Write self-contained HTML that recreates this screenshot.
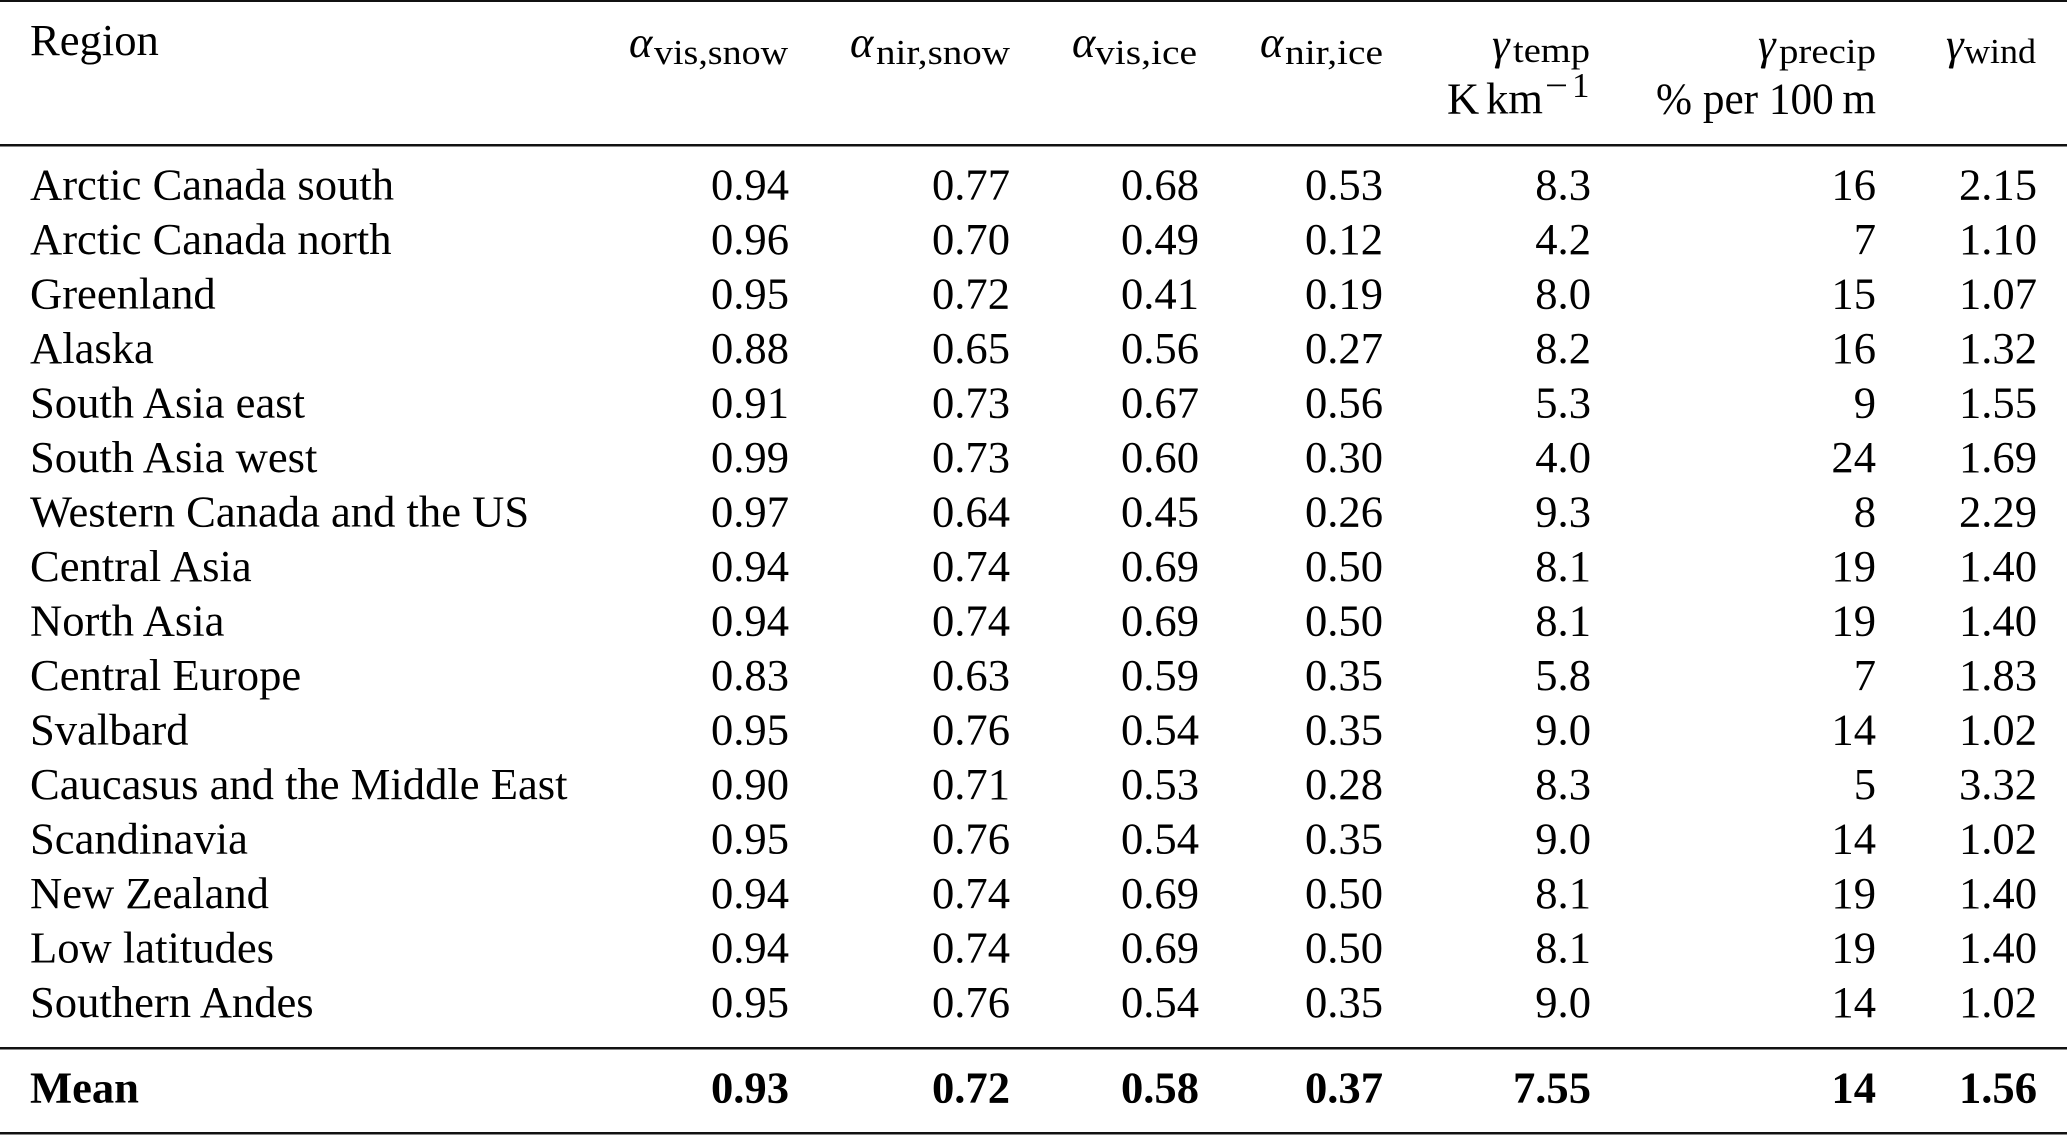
<!DOCTYPE html>
<html>
<head>
<meta charset="utf-8">
<style>
  html, body { margin: 0; padding: 0; background: #ffffff; }
  body { width: 2067px; height: 1135px; overflow: hidden; }
  svg { display: block; }
  text { font-family: "Liberation Serif", "Times New Roman", serif; fill: #000; }
  .m { font-size: 44.6px; }
  .s { font-size: 35px; }
  .g { font-size: 44.6px; font-style: italic; }
  .b { font-size: 44.6px; font-weight: bold; }
</style>
</head>
<body>
<svg width="2067" height="1135" viewBox="0 0 2067 1135" xmlns="http://www.w3.org/2000/svg">
  <!-- rules -->
  <rect x="0" y="0" width="2067" height="2" fill="#111"/>
  <rect x="0" y="144" width="2067" height="2.5" fill="#111"/>
  <rect x="0" y="1047" width="2067" height="2.5" fill="#111"/>
  <rect x="0" y="1132" width="2067" height="2.5" fill="#111"/>

  <!-- header -->
  <text class="m" x="30" y="55">Region</text>

  <text class="g" x="629" y="57">α</text>
  <text class="s" x="654" y="64" textLength="134" lengthAdjust="spacingAndGlyphs">vis,snow</text>

  <text class="g" x="850" y="57">α</text>
  <text class="s" x="876" y="64" textLength="134" lengthAdjust="spacingAndGlyphs">nir,snow</text>

  <text class="g" x="1072" y="57">α</text>
  <text class="s" x="1095" y="64" textLength="102" lengthAdjust="spacingAndGlyphs">vis,ice</text>

  <text class="g" x="1260" y="57">α</text>
  <text class="s" x="1285" y="64" textLength="98" lengthAdjust="spacingAndGlyphs">nir,ice</text>

  <text class="g" x="1492" y="59">γ</text>
  <text class="s" x="1513" y="62" textLength="77" lengthAdjust="spacingAndGlyphs">temp</text>

  <text class="g" x="1758" y="59">γ</text>
  <text class="s" x="1779" y="63" textLength="97" lengthAdjust="spacingAndGlyphs">precip</text>

  <text class="g" x="1946" y="59">γ</text>
  <text class="s" x="1964" y="63" textLength="72" lengthAdjust="spacingAndGlyphs">wind</text>

  <!-- units line -->
  <text class="m" x="1447" y="113.5">K</text>
  <text class="m" x="1486" y="113.5">km</text>
  <text class="s" x="1545" y="97" textLength="23" lengthAdjust="spacingAndGlyphs">−</text>
  <text class="s" x="1572" y="97">1</text>
  <text class="m" x="1656" y="113.5" textLength="220" lengthAdjust="spacingAndGlyphs">% per 100&#8201;m</text>

  <!-- data rows -->
  <g class="m">
    <text x="30" y="199.5">Arctic Canada south</text>
    <text x="789" y="199.5" text-anchor="end">0.94</text>
    <text x="1010" y="199.5" text-anchor="end">0.77</text>
    <text x="1199" y="199.5" text-anchor="end">0.68</text>
    <text x="1383" y="199.5" text-anchor="end">0.53</text>
    <text x="1591" y="199.5" text-anchor="end">8.3</text>
    <text x="1876" y="199.5" text-anchor="end">16</text>
    <text x="2037" y="199.5" text-anchor="end">2.15</text>

    <text x="30" y="254">Arctic Canada north</text>
    <text x="789" y="254" text-anchor="end">0.96</text>
    <text x="1010" y="254" text-anchor="end">0.70</text>
    <text x="1199" y="254" text-anchor="end">0.49</text>
    <text x="1383" y="254" text-anchor="end">0.12</text>
    <text x="1591" y="254" text-anchor="end">4.2</text>
    <text x="1876" y="254" text-anchor="end">7</text>
    <text x="2037" y="254" text-anchor="end">1.10</text>

    <text x="30" y="308.5">Greenland</text>
    <text x="789" y="308.5" text-anchor="end">0.95</text>
    <text x="1010" y="308.5" text-anchor="end">0.72</text>
    <text x="1199" y="308.5" text-anchor="end">0.41</text>
    <text x="1383" y="308.5" text-anchor="end">0.19</text>
    <text x="1591" y="308.5" text-anchor="end">8.0</text>
    <text x="1876" y="308.5" text-anchor="end">15</text>
    <text x="2037" y="308.5" text-anchor="end">1.07</text>

    <text x="30" y="363">Alaska</text>
    <text x="789" y="363" text-anchor="end">0.88</text>
    <text x="1010" y="363" text-anchor="end">0.65</text>
    <text x="1199" y="363" text-anchor="end">0.56</text>
    <text x="1383" y="363" text-anchor="end">0.27</text>
    <text x="1591" y="363" text-anchor="end">8.2</text>
    <text x="1876" y="363" text-anchor="end">16</text>
    <text x="2037" y="363" text-anchor="end">1.32</text>

    <text x="30" y="417.5">South Asia east</text>
    <text x="789" y="417.5" text-anchor="end">0.91</text>
    <text x="1010" y="417.5" text-anchor="end">0.73</text>
    <text x="1199" y="417.5" text-anchor="end">0.67</text>
    <text x="1383" y="417.5" text-anchor="end">0.56</text>
    <text x="1591" y="417.5" text-anchor="end">5.3</text>
    <text x="1876" y="417.5" text-anchor="end">9</text>
    <text x="2037" y="417.5" text-anchor="end">1.55</text>

    <text x="30" y="472">South Asia west</text>
    <text x="789" y="472" text-anchor="end">0.99</text>
    <text x="1010" y="472" text-anchor="end">0.73</text>
    <text x="1199" y="472" text-anchor="end">0.60</text>
    <text x="1383" y="472" text-anchor="end">0.30</text>
    <text x="1591" y="472" text-anchor="end">4.0</text>
    <text x="1876" y="472" text-anchor="end">24</text>
    <text x="2037" y="472" text-anchor="end">1.69</text>

    <text x="30" y="526.5">Western Canada and the US</text>
    <text x="789" y="526.5" text-anchor="end">0.97</text>
    <text x="1010" y="526.5" text-anchor="end">0.64</text>
    <text x="1199" y="526.5" text-anchor="end">0.45</text>
    <text x="1383" y="526.5" text-anchor="end">0.26</text>
    <text x="1591" y="526.5" text-anchor="end">9.3</text>
    <text x="1876" y="526.5" text-anchor="end">8</text>
    <text x="2037" y="526.5" text-anchor="end">2.29</text>

    <text x="30" y="581">Central Asia</text>
    <text x="789" y="581" text-anchor="end">0.94</text>
    <text x="1010" y="581" text-anchor="end">0.74</text>
    <text x="1199" y="581" text-anchor="end">0.69</text>
    <text x="1383" y="581" text-anchor="end">0.50</text>
    <text x="1591" y="581" text-anchor="end">8.1</text>
    <text x="1876" y="581" text-anchor="end">19</text>
    <text x="2037" y="581" text-anchor="end">1.40</text>

    <text x="30" y="635.5">North Asia</text>
    <text x="789" y="635.5" text-anchor="end">0.94</text>
    <text x="1010" y="635.5" text-anchor="end">0.74</text>
    <text x="1199" y="635.5" text-anchor="end">0.69</text>
    <text x="1383" y="635.5" text-anchor="end">0.50</text>
    <text x="1591" y="635.5" text-anchor="end">8.1</text>
    <text x="1876" y="635.5" text-anchor="end">19</text>
    <text x="2037" y="635.5" text-anchor="end">1.40</text>

    <text x="30" y="690">Central Europe</text>
    <text x="789" y="690" text-anchor="end">0.83</text>
    <text x="1010" y="690" text-anchor="end">0.63</text>
    <text x="1199" y="690" text-anchor="end">0.59</text>
    <text x="1383" y="690" text-anchor="end">0.35</text>
    <text x="1591" y="690" text-anchor="end">5.8</text>
    <text x="1876" y="690" text-anchor="end">7</text>
    <text x="2037" y="690" text-anchor="end">1.83</text>

    <text x="30" y="744.5">Svalbard</text>
    <text x="789" y="744.5" text-anchor="end">0.95</text>
    <text x="1010" y="744.5" text-anchor="end">0.76</text>
    <text x="1199" y="744.5" text-anchor="end">0.54</text>
    <text x="1383" y="744.5" text-anchor="end">0.35</text>
    <text x="1591" y="744.5" text-anchor="end">9.0</text>
    <text x="1876" y="744.5" text-anchor="end">14</text>
    <text x="2037" y="744.5" text-anchor="end">1.02</text>

    <text x="30" y="799">Caucasus and the Middle East</text>
    <text x="789" y="799" text-anchor="end">0.90</text>
    <text x="1010" y="799" text-anchor="end">0.71</text>
    <text x="1199" y="799" text-anchor="end">0.53</text>
    <text x="1383" y="799" text-anchor="end">0.28</text>
    <text x="1591" y="799" text-anchor="end">8.3</text>
    <text x="1876" y="799" text-anchor="end">5</text>
    <text x="2037" y="799" text-anchor="end">3.32</text>

    <text x="30" y="853.5">Scandinavia</text>
    <text x="789" y="853.5" text-anchor="end">0.95</text>
    <text x="1010" y="853.5" text-anchor="end">0.76</text>
    <text x="1199" y="853.5" text-anchor="end">0.54</text>
    <text x="1383" y="853.5" text-anchor="end">0.35</text>
    <text x="1591" y="853.5" text-anchor="end">9.0</text>
    <text x="1876" y="853.5" text-anchor="end">14</text>
    <text x="2037" y="853.5" text-anchor="end">1.02</text>

    <text x="30" y="908">New Zealand</text>
    <text x="789" y="908" text-anchor="end">0.94</text>
    <text x="1010" y="908" text-anchor="end">0.74</text>
    <text x="1199" y="908" text-anchor="end">0.69</text>
    <text x="1383" y="908" text-anchor="end">0.50</text>
    <text x="1591" y="908" text-anchor="end">8.1</text>
    <text x="1876" y="908" text-anchor="end">19</text>
    <text x="2037" y="908" text-anchor="end">1.40</text>

    <text x="30" y="962.5">Low latitudes</text>
    <text x="789" y="962.5" text-anchor="end">0.94</text>
    <text x="1010" y="962.5" text-anchor="end">0.74</text>
    <text x="1199" y="962.5" text-anchor="end">0.69</text>
    <text x="1383" y="962.5" text-anchor="end">0.50</text>
    <text x="1591" y="962.5" text-anchor="end">8.1</text>
    <text x="1876" y="962.5" text-anchor="end">19</text>
    <text x="2037" y="962.5" text-anchor="end">1.40</text>

    <text x="30" y="1017">Southern Andes</text>
    <text x="789" y="1017" text-anchor="end">0.95</text>
    <text x="1010" y="1017" text-anchor="end">0.76</text>
    <text x="1199" y="1017" text-anchor="end">0.54</text>
    <text x="1383" y="1017" text-anchor="end">0.35</text>
    <text x="1591" y="1017" text-anchor="end">9.0</text>
    <text x="1876" y="1017" text-anchor="end">14</text>
    <text x="2037" y="1017" text-anchor="end">1.02</text>
  </g>

  <!-- mean row -->
  <g class="b">
    <text x="30" y="1102.5">Mean</text>
    <text x="789" y="1102.5" text-anchor="end">0.93</text>
    <text x="1010" y="1102.5" text-anchor="end">0.72</text>
    <text x="1199" y="1102.5" text-anchor="end">0.58</text>
    <text x="1383" y="1102.5" text-anchor="end">0.37</text>
    <text x="1591" y="1102.5" text-anchor="end">7.55</text>
    <text x="1876" y="1102.5" text-anchor="end">14</text>
    <text x="2037" y="1102.5" text-anchor="end">1.56</text>
  </g>
</svg>
</body>
</html>
